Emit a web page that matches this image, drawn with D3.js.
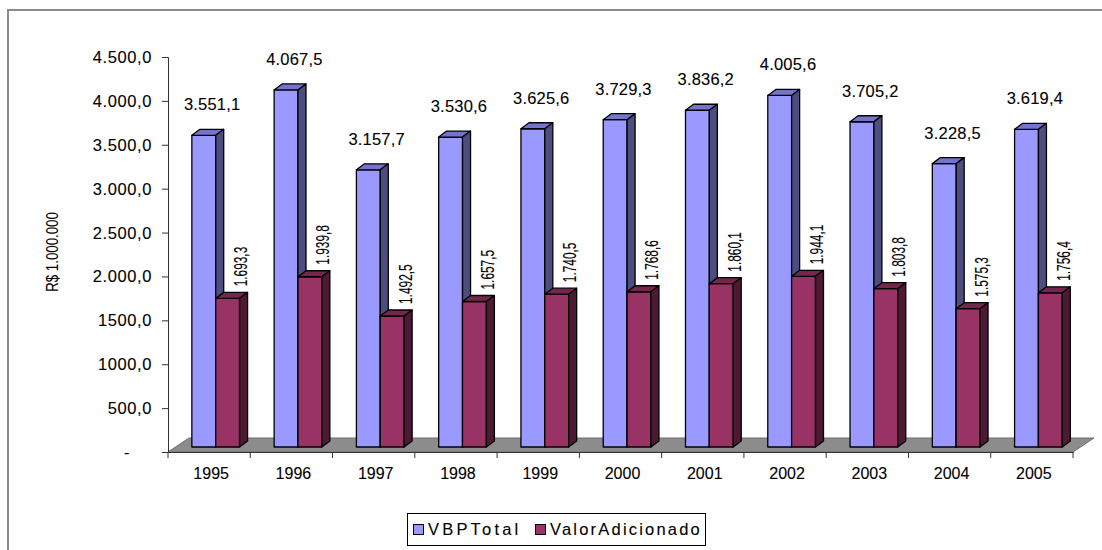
<!DOCTYPE html>
<html>
<head>
<meta charset="utf-8">
<script src="https://cdn.jsdelivr.net/npm/d3@7"></script>
<style>
  html, body { margin: 0; padding: 0; background: #fff; }
  svg { display: block; font-family: "Liberation Sans", Arial, sans-serif; }
  text { stroke: #000; stroke-width: 0.1px; }
</style>
</head>
<body>
<svg id="chart" width="1102" height="550"></svg>
<script>
// ---- data ----
const years = ["1995","1996","1997","1998","1999","2000","2001","2002","2003","2004","2005"];
const vbpTotal = [3551.1, 4067.5, 3157.7, 3530.6, 3625.6, 3729.3, 3836.2, 4005.6, 3705.2, 3228.5, 3619.4];
const valorAdicionado = [1693.3, 1939.8, 1492.5, 1657.5, 1740.5, 1768.6, 1860.1, 1944.1, 1803.8, 1575.3, 1756.4];
const tickValues = [0, 500, 1000, 1500, 2000, 2500, 3000, 3500, 4000, 4500];
const tickLabels = ["-", "500,0", "1000,0", "1500,0", "2.000,0", "2.500,0", "3.000,0", "3.500,0", "4.000,0", "4.500,0"];
const seriesNames = ["VBPTotal", "ValorAdicionado"];
const yTitle = "R$ 1.000.000";

// ---- styles ----
const colors = {
  blue: { front: "#9999ff", side: "#4d4d80", top: "#7474cc" },
  red:  { front: "#993366", side: "#4d1a33", top: "#74264d" }
};

const br = d3.formatLocale({ decimal: ",", thousands: ".", grouping: [3], currency: ["R$ ", ""] });
const fmt = br.format(",.1f");

const svg = d3.select("#chart");

// outer chart border
svg.append("rect").attr("x", 8).attr("y", 10).attr("width", 1300).attr("height", 700)
  .attr("fill", "none").attr("stroke", "#8a8a8a").attr("stroke-width", 2);

const x = d3.scaleBand().domain(years).range([168, 1073]).padding(0);
const y = d3.scaleLinear().domain([0, 4500]).range([452, 57]);

const floorD = { dx: 21, dy: -14 };  // floor depth
const barShift = -5;                 // bars sit slightly back on the floor
const bd = { dx: 8, dy: -6 };        // bar depth

// floor
const fx0 = x.range()[0], fx1 = x.range()[1], fy = y(0);
svg.append("polygon")
  .attr("points", [[fx0, fy], [fx1, fy], [fx1 + floorD.dx, fy + floorD.dy], [fx0 + floorD.dx, fy + floorD.dy]].map(p => p.join(",")).join(" "))
  .attr("fill", "#8c8c8c").attr("stroke", "#6e6e6e").attr("stroke-width", 1);

// y axis
const yAxisG = svg.append("g").attr("transform", `translate(${fx0},0)`)
  .call(d3.axisLeft(y).tickValues(tickValues).tickSize(6).tickFormat((d, i) => tickLabels[i]));
yAxisG.select(".domain").attr("stroke", "#333");
yAxisG.selectAll(".tick line").attr("stroke", "#333");
yAxisG.selectAll(".tick text")
  .attr("x", d => d === 0 ? -38 : -16)
  .attr("dy", "0.33em")
  .attr("font-size", 16.5).attr("letter-spacing", 0.6).attr("fill", "#000")
  .attr("font-family", "Liberation Sans, Arial, sans-serif");

// x axis
const xAxisG = svg.append("g").attr("transform", `translate(0,${fy})`)
  .call(d3.axisBottom(x).tickSize(0).tickPadding(16));
xAxisG.select(".domain").attr("stroke", "#333");
xAxisG.selectAll(".tick text").attr("font-size", 16).attr("letter-spacing", 0).attr("fill", "#000")
  .attr("dx", 2).attr("font-family", "Liberation Sans, Arial, sans-serif");
// category boundary ticks
const bounds = years.map(d => x(d)).concat([fx1]);
svg.append("g").selectAll("line").data(bounds).join("line")
  .attr("x1", d => d).attr("x2", d => d).attr("y1", fy).attr("y2", fy + 6)
  .attr("stroke", "#333");

// bars
function bar3d(g, left, width, value, c) {
  const base = y(0) + barShift;
  const top = y(value) + barShift;
  const right = left + width;
  const pts = a => a.map(p => p.join(",")).join(" ");
  g.append("polygon").attr("points", pts([[left, top], [right, top], [right, base], [left, base]]))
    .attr("fill", c.front).attr("stroke", "#000").attr("stroke-width", 1.3).attr("stroke-linejoin", "round");
  g.append("polygon").attr("points", pts([[left, top], [left + bd.dx, top + bd.dy], [right + bd.dx, top + bd.dy], [right, top]]))
    .attr("fill", c.top).attr("stroke", "#000").attr("stroke-width", 1.3).attr("stroke-linejoin", "round");
  g.append("polygon").attr("points", pts([[right, top], [right + bd.dx, top + bd.dy], [right + bd.dx, base + bd.dy], [right, base]]))
    .attr("fill", c.side).attr("stroke", "#000").attr("stroke-width", 1.3).attr("stroke-linejoin", "round");
}

const bw = x.bandwidth();
const barsG = svg.append("g");
years.forEach((yr, i) => {
  const x0 = x(yr);
  const g = barsG.append("g");
  bar3d(g, x0 + bw * 0.29, bw * 0.29, vbpTotal[i], colors.blue);
  bar3d(g, x0 + bw * 0.58, bw * 0.29, valorAdicionado[i], colors.red);
});

// blue labels (horizontal, above bars)
svg.append("g").selectAll("text").data(vbpTotal).join("text")
  .attr("x", (d, i) => x(years[i]) + bw / 2 + 3)
  .attr("y", d => y(d) + barShift - 25)
  .attr("text-anchor", "middle")
  .attr("font-size", 16.5).attr("letter-spacing", 0.2)
  .attr("fill", "#000")
  .text(d => fmt(d));

// red labels (vertical, condensed)
svg.append("g").selectAll("text").data(valorAdicionado).join("text")
  .attr("transform", (d, i) => `translate(${x(years[i]) + bw * 0.87 + 7.5},${y(d) + barShift - 12}) rotate(-90) scale(0.66,1)`)
  .attr("text-anchor", "start")
  .attr("font-size", 18)
  .attr("fill", "#000")
  .text(d => fmt(d));

// y title
svg.append("text")
  .attr("transform", "translate(58,252) rotate(-90) scale(0.78,1)")
  .attr("text-anchor", "middle")
  .attr("font-size", 17).attr("fill", "#000")
  .text(yTitle);

// legend
const lg = svg.append("g");
lg.append("rect").attr("x", 407.5).attr("y", 513.5).attr("width", 298).attr("height", 32)
  .attr("fill", "#fff").attr("stroke", "#000").attr("stroke-width", 1);
const legendItems = [
  { name: seriesNames[0], color: colors.blue.front, sx: 413, tx: 428, ls: 3.2 },
  { name: seriesNames[1], color: colors.red.front, sx: 535, tx: 550, ls: 2.2 }
];
legendItems.forEach(it => {
  lg.append("rect").attr("x", it.sx + 0.5).attr("y", 524.5).attr("width", 10).attr("height", 10)
    .attr("fill", it.color).attr("stroke", "#000").attr("stroke-width", 1);
  lg.append("text").attr("x", it.tx).attr("y", 535).attr("font-size", 16.5).attr("letter-spacing", it.ls)
    .attr("fill", "#000").text(it.name);
});
</script>
</body>
</html>
